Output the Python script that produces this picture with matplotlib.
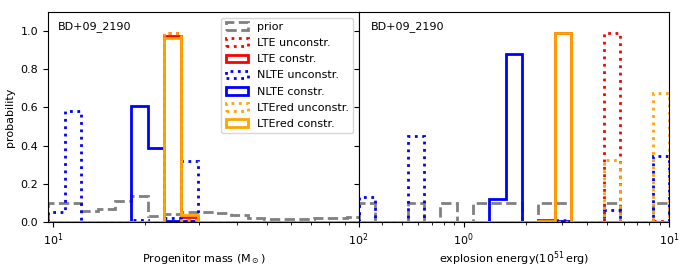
import numpy as np
import matplotlib
matplotlib.use("Agg")
import matplotlib.pyplot as plt

plt.rcParams['font.size'] = 8

star = "BD+09_2190"

# bin edges
mass_edges = [9.64, 10.91, 12.39, 14.03, 15.92, 18.03, 20.42, 23.17, 26.24, 29.79,
              33.73, 38.19, 43.35, 49.09, 55.72, 63.10, 71.45, 81.10, 91.83, 104.2]
energy_edges = [0.308, 0.370, 0.444, 0.533, 0.640, 0.769, 0.924, 1.110, 1.333, 1.600,
                1.923, 2.310, 2.774, 3.333, 4.000, 4.805, 5.772, 6.934, 8.330, 10.0]

# progenitor mass probabilities
mass_prior = [0.098, 0.098, 0.059, 0.068, 0.11, 0.138, 0.033, 0.044, 0.05, 0.05,
              0.045, 0.037, 0.023, 0.014, 0.014, 0.017, 0.019, 0.021, 0.024]
mass_lte_unc = [0, 0, 0, 0, 0, 0, 0, 0.99, 0.01, 0, 0, 0, 0, 0, 0, 0, 0, 0, 0]
mass_lte_con = [0, 0, 0, 0, 0, 0, 0, 0.975, 0.025, 0, 0, 0, 0, 0, 0, 0, 0, 0, 0]
mass_nlte_unc = [0.05, 0.583, 0, 0, 0, 0.012, 0, 0.02, 0.32, 0, 0, 0, 0, 0, 0, 0, 0, 0, 0]
mass_nlte_con = [0, 0, 0, 0, 0, 0.607, 0.386, 0.004, 0.004, 0, 0, 0, 0, 0, 0, 0, 0, 0, 0]
mass_ltered_unc = [0, 0, 0, 0, 0, 0, 0, 0.99, 0.01, 0, 0, 0, 0, 0, 0, 0, 0, 0, 0]
mass_ltered_con = [0, 0, 0, 0, 0, 0, 0, 0.965, 0.035, 0, 0, 0, 0, 0, 0, 0, 0, 0, 0]

# explosion energy probabilities
en_prior = [0.1, 0, 0, 0.1, 0, 0.1, 0, 0.1, 0.1, 0.1, 0, 0.1, 0.1, 0, 0, 0.1, 0, 0, 0.1]
en_lte_unc = [0, 0, 0, 0, 0, 0, 0, 0, 0, 0, 0, 0, 0.01, 0, 0, 0.988, 0, 0, 0.005]
en_lte_con = [0, 0, 0, 0, 0, 0, 0, 0, 0, 0, 0, 0.01, 0.99, 0, 0, 0, 0, 0, 0]
en_nlte_unc = [0.13, 0, 0, 0.449, 0, 0, 0, 0, 0, 0, 0, 0, 0, 0, 0, 0.063, 0, 0, 0.346]
en_nlte_con = [0, 0, 0, 0, 0, 0, 0, 0, 0.12, 0.878, 0, 0.004, 0.004, 0, 0, 0, 0, 0, 0]
en_ltered_unc = [0, 0, 0, 0, 0, 0, 0, 0, 0, 0, 0, 0, 0, 0, 0, 0.325, 0, 0, 0.677]
en_ltered_con = [0, 0, 0, 0, 0, 0, 0, 0, 0, 0, 0, 0.007, 0.991, 0, 0, 0, 0, 0, 0]

labels = ["prior", "LTE unconstr.", "LTE constr.", "NLTE unconstr.",
          "NLTE constr.", "LTEred unconstr.", "LTEred constr."]
colors = ["gray", "red", "red", "blue", "blue", "orange", "orange"]
styles = ["--", ":", "-", ":", "-", ":", "-"]

mass_series = [mass_prior, mass_lte_unc, mass_lte_con, mass_nlte_unc,
               mass_nlte_con, mass_ltered_unc, mass_ltered_con]
en_series = [en_prior, en_lte_unc, en_lte_con, en_nlte_unc,
             en_nlte_con, en_ltered_unc, en_ltered_con]

fig, (ax1, ax2) = plt.subplots(1, 2, sharey=True, figsize=(6.87, 2.69), dpi=100)
fig.subplots_adjust(left=0.07, right=0.974, top=0.955, bottom=0.175, wspace=0)


def draw(ax, edges, series):
    edges = np.array(edges)
    mids = np.sqrt(edges[:-1] * edges[1:])
    for vals, lab, c, ls in zip(series, labels, colors, styles):
        ax.hist(mids, bins=edges, weights=vals, histtype='step',
                color=c, linestyle=ls, linewidth=2, label=lab)
    ax.set_xscale('log')


draw(ax1, mass_edges, mass_series)
draw(ax2, energy_edges, en_series)

ax1.set_xlim(9.64, 100)
ax2.set_xlim(0.308, 10)
ax1.set_ylim(0, 1.1)
ax1.set_yticks([0.0, 0.2, 0.4, 0.6, 0.8, 1.0])

ax1.set_ylabel("probability")
ax1.set_xlabel(r"Progenitor mass (M$_\odot$)", labelpad=3)
ax2.set_xlabel(r"explosion energy(10$^{51}\,$erg)", labelpad=1)

ax1.text(0.03, 0.93, star, transform=ax1.transAxes, va='center')
ax2.text(0.04, 0.93, star, transform=ax2.transAxes, va='center')

ax1.legend(loc='upper right', labelspacing=0.55)

fig.savefig("out.png", dpi=100)
